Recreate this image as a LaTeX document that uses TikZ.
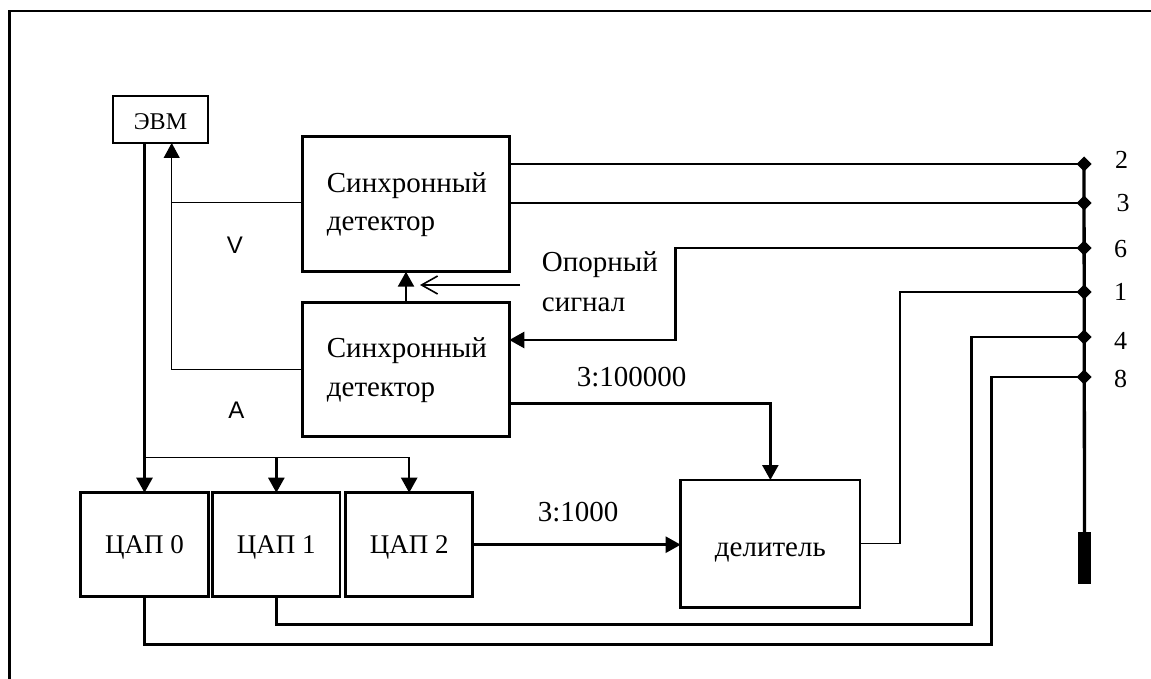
\documentclass[tikz,border=0pt]{standalone}
\usepackage{fontspec}
\setmainfont{Liberation Serif}
\newfontfamily\arialf{Liberation Sans}
\usetikzlibrary{arrows.meta,shapes.geometric,calc}
\begin{document}
\begin{tikzpicture}[x=1pt,y=-1pt,
  box/.style={draw,line width=2.5pt,inner sep=0pt,outer sep=0pt},
  thinbox/.style={draw,line width=1.1pt,inner sep=0pt,outer sep=0pt},
  txt/.style={inner sep=0pt,font=\fontsize{29}{34}\selectfont},
  dactxt/.style={inner sep=0pt,font=\fontsize{27}{32}\selectfont},
  smalltxt/.style={inner sep=0pt,font=\fontsize{24}{28}\selectfont},
  numtxt/.style={inner sep=0pt,font=\fontsize{26}{30}\selectfont},
  sanstxt/.style={inner sep=0pt,font=\arialf\fontsize{24}{28}\selectfont},
  wire/.style={line width=2.5pt},
  thinwire/.style={line width=1.1pt},
  arr/.style={-{Triangle[length=15pt,width=16pt]}},
  openarr/.style={-{Straight Barb[length=16pt,width=18pt,line width=1.6pt]}},
]
\clip (0,0) rectangle (1151,679);
\fill[white] (0,0) rectangle (1151,679);
% frame
\draw[line width=2.5pt] (9.7,700) -- (9.7,11.2) -- (1170,11.2);

% boxes
\node[thinbox,minimum width=95pt,minimum height=47pt] (evm) at (160.5,119.5) {};
\node[box,minimum width=206.6pt,minimum height=135pt] (sd1) at (406,204.2) {};
\node[box,minimum width=206.6pt,minimum height=134.4pt] (sd2) at (406,369.5) {};
\node[box,minimum width=127.6pt,minimum height=104pt] (dac0) at (144.5,544.7) {};
\node[box,minimum width=127.3pt,minimum height=104pt] (dac1) at (276.35,544.7) {};
\node[box,minimum width=127pt,minimum height=104pt] (dac2) at (409.2,544.7) {};
\node[box,minimum width=179.3pt,minimum height=127.7pt] (div) at (770.35,543.85) {};

% texts
\node[smalltxt,anchor=base] (tevm) at (160.5,129.3) {ЭВМ};
\node[txt,anchor=base west] (s1a) at (326.7,193) {Синхронный};
\node[txt,anchor=base west] (s1b) at (326.7,231) {детектор};
\node[txt,anchor=base west] (s2a) at (326.7,357) {Синхронный};
\node[txt,anchor=base west] (s2b) at (326.7,396) {детектор};
\node[txt,anchor=base west] (op1) at (541.7,271.7) {Опорный};
\node[txt,anchor=base west] (op2) at (541.7,311.7) {сигнал};
\node[txt,anchor=base west] (r1) at (576.7,386.7) {3:100000};
\node[txt,anchor=base west] (r2) at (537.7,521.7) {3:1000};
\node[txt,anchor=base] (tdiv) at (770.35,556) {делитель};
\node[dactxt,anchor=base] (t0) at (144.5,553.3) {ЦАП 0};
\node[dactxt,anchor=base] (t1) at (276.35,553.3) {ЦАП 1};
\node[dactxt,anchor=base] (t2) at (409.2,553.3) {ЦАП 2};
\node[sanstxt] (lv) at (235,245) {V};
\node[sanstxt] (la) at (236.5,410) {A};

% coordinates
\coordinate (cV) at (171.7,202.7);
\coordinate (cA) at (171.7,369.5);
\coordinate (b0) at (144.5,457.3);
\coordinate (opS) at (520,285);
\coordinate (opT) at (420,285);
\coordinate (w6a) at (675.7,248);
\coordinate (w6b) at (675.7,340);
\coordinate (w1a) at (900,292);
\coordinate (w1b) at (900,543.85);
\coordinate (c1) at (770.35,403.3);
\coordinate (w4a) at (971.7,337);
\coordinate (w4b) at (971.7,624.3);
\coordinate (w8a) at (991.7,377);
\coordinate (w8b) at (991.7,644.3);

% junctions
\coordinate (j2) at (1084,164);
\coordinate (j3) at (1084,203);
\coordinate (j6) at (1084,248);
\coordinate (j1) at (1084,292);
\coordinate (j4) at (1084,337);
\coordinate (j8) at (1084,377);
\node[fill=black,inner sep=0pt,minimum width=13pt,minimum height=52pt] (probe) at (1084.5,558) {};

% connectors
\draw[wire,arr] (dac0.north |- evm.south) -- (dac0.north);
\draw[thinwire] (b0) -- (dac2.north |- b0);
\draw[wire,arr] (dac1.north |- b0) -- (dac1.north);
\draw[wire,arr] (dac2.north |- b0) -- (dac2.north);
\draw[thinwire] (sd1.west |- cV) -- (cV);
\draw[thinwire,arr] (sd2.west) -- (cA) -- (cV |- evm.south);
\draw[wire,arr] (sd2.north) -- (sd1.south);
\draw[thinwire,openarr] (opS) -- (opT);
\draw[wire] (sd1.east |- j2) -- (j2);
\draw[wire] (sd1.east |- j3) -- (j3);
\draw[wire,arr] (j6) -- (w6a) -- (w6b) -- (w6b -| sd2.east);
\draw[thinwire] (j1) -- (w1a) -- (w1b) -- (div.east);
\draw[wire,arr] (c1 -| sd2.east) -- (c1) -- (div.north);
\draw[wire,arr] (dac2.east) -- (dac2.east -| div.west);
\draw[wire] (j4) -- (w4a) -- (w4b) -- (w4b -| dac1.south) -- (dac1.south);
\draw[wire] (j8) -- (w8a) -- (w8b) -- (w8b -| dac0.south) -- (dac0.south);
\draw[line width=3.3pt] (j2) -- (probe.north);

\foreach \j in {j2,j3,j6,j1,j4,j8}
  \fill (\j) ++(-7.5,0) -- ++(7.5,-7.5) -- ++(7.5,7.5) -- ++(-7.5,7.5) -- cycle;

% pin numbers
\node[numtxt] (n2) at (1121.5,160) {2};
\node[numtxt] (n3) at (1123,203) {3};
\node[numtxt] (n6) at (1120.5,249) {6};
\node[numtxt] (n1) at (1120.5,292) {1};
\node[numtxt] (n4) at (1120.5,341) {4};
\node[numtxt] (n8) at (1120.5,378.7) {8};
\end{tikzpicture}
\end{document}
